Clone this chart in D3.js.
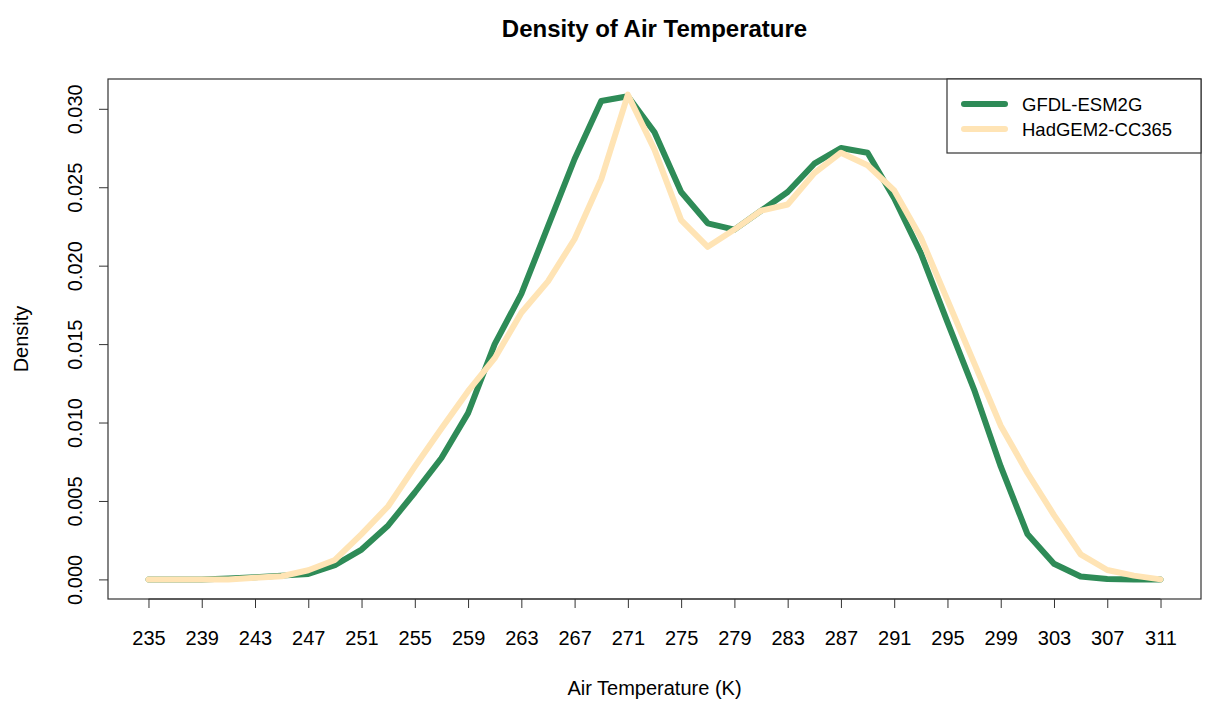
<!DOCTYPE html>
<html>
  <head>
	<meta charset="utf-8">
	<title>Density of Air Temperature</title>
	<style>
	  body { margin: 0; background: #fff; }
	  svg text { font-family: "Liberation Sans", Arial, sans-serif; fill: #000; }
	</style>
  </head>
  <body>
	<div id="chart"></div>
	<script src="https://d3js.org/d3.v7.min.js"></script>
	<script>
	  (function(d3) {
		'use strict';

		// temperature grid (K), every 2 degrees
		var temps = [235, 237, 239, 241, 243, 245, 247, 249, 251, 253, 255, 257, 259,
		  261, 263, 265, 267, 269, 271, 273, 275, 277, 279, 281, 283, 285, 287,
		  289, 291, 293, 295, 297, 299, 301, 303, 305, 307, 309, 311];

		var gfdl = [0, 0, 0, 0.00005, 0.00013, 0.00024, 0.00035, 0.00091, 0.0019, 0.00344,
		  0.00554, 0.00774, 0.0106, 0.0150, 0.0182, 0.0225, 0.0268, 0.0305, 0.0308,
		  0.0285, 0.0247, 0.0227, 0.0223, 0.0235, 0.0247, 0.0265, 0.0275, 0.0272,
		  0.0243, 0.0208, 0.0164, 0.0121, 0.0072, 0.0029, 0.0010, 0.00018, 0.00003, 0, 0];

		var hadgem = [0, 0, 0, 0, 0.0001, 0.0002, 0.00058, 0.00124, 0.00289, 0.00466,
		  0.00719, 0.00962, 0.0120, 0.0141, 0.0170, 0.0190, 0.0217, 0.0255, 0.0309,
		  0.0274, 0.0229, 0.0212, 0.0223, 0.0235, 0.0239, 0.0259, 0.0272, 0.0264,
		  0.0248, 0.0218, 0.0178, 0.0138, 0.0098, 0.0068, 0.0041, 0.0016, 0.0006, 0.00024, 0];

		var xTicks = d3.range(235, 312, 4);
		var yTicks = [0, 0.005, 0.010, 0.015, 0.020, 0.025, 0.030];

		var seriesNames = ['GFDL-ESM2G', 'HadGEM2-CC365'];
		var seriesColors = ['#2e8b57', '#ffe4b5'];

		var width = 1209;
		var height = 708;
		var plot = { left: 108, right: 1201, top: 79, bottom: 599 };
		var font = '"Liberation Sans", Arial, sans-serif';

		var x = d3.scaleLinear().domain([231.96, 314.04]).range([plot.left, plot.right]);
		var y = d3.scaleLinear().domain([-0.00125, 0.0319]).range([plot.bottom, plot.top]);

		var svg = d3.select('#chart')
		  .append('svg')
		  .attr('width', width)
		  .attr('height', height);

		// title
		svg.append('text')
		  .attr('x', (plot.left + plot.right) / 2)
		  .attr('y', 37)
		  .attr('text-anchor', 'middle')
		  .style('font-size', '24px')
		  .style('font-weight', 'bold')
		  .text('Density of Air Temperature');

		// x axis
		var xAxis = svg.append('g')
		  .attr('transform', 'translate(0,' + plot.bottom + ')')
		  .call(d3.axisBottom(x).tickValues(xTicks).tickSize(9).tickPadding(23).tickFormat(d3.format('d')));
		xAxis.select('.domain').remove();
		xAxis.selectAll('text').style('font-size', '20px').style('font-family', font);
		xAxis.selectAll('line').attr('stroke', '#333');
		svg.append('line')
		  .attr('x1', x(235)).attr('x2', x(311))
		  .attr('y1', plot.bottom).attr('y2', plot.bottom)
		  .attr('stroke', '#333');

		// y axis, labels rotated like R
		var yAxis = svg.append('g')
		  .attr('transform', 'translate(' + plot.left + ',0)')
		  .call(d3.axisLeft(y).tickValues(yTicks).tickSize(9).tickFormat(d3.format('.3f')));
		yAxis.select('.domain').remove();
		yAxis.selectAll('line').attr('stroke', '#333');
		yAxis.selectAll('text')
		  .style('font-size', '20px')
		  .style('font-family', font)
		  .attr('text-anchor', 'middle')
		  .attr('dy', null)
		  .attr('x', null)
		  .attr('transform', 'translate(-26,0) rotate(-90)');

		// plot box
		svg.append('rect')
		  .attr('x', plot.left).attr('y', plot.top)
		  .attr('width', plot.right - plot.left)
		  .attr('height', plot.bottom - plot.top)
		  .attr('fill', 'none')
		  .attr('stroke', '#333')
		  .attr('stroke-width', 1.2);

		// axis titles
		svg.append('text')
		  .attr('x', (plot.left + plot.right) / 2)
		  .attr('y', 695)
		  .attr('text-anchor', 'middle')
		  .style('font-size', '20px')
		  .text('Air Temperature (K)');

		svg.append('text')
		  .attr('transform', 'translate(28,' + ((plot.top + plot.bottom) / 2) + ') rotate(-90)')
		  .attr('text-anchor', 'middle')
		  .style('font-size', '20px')
		  .text('Density');

		// lines
		var line = d3.line()
		  .x(function(d) { return x(d[0]); })
		  .y(function(d) { return y(d[1]); });

		[gfdl, hadgem].forEach(function(vals, i) {
		  svg.append('path')
			.datum(temps.map(function(t, j) { return [t, vals[j]]; }))
			.attr('d', line)
			.attr('fill', 'none')
			.attr('stroke', seriesColors[i])
			.attr('stroke-width', 6)
			.attr('stroke-linejoin', 'round')
			.attr('stroke-linecap', 'round');
		});

		// legend
		var legend = svg.append('g');
		legend.append('rect')
		  .attr('x', 947).attr('y', plot.top)
		  .attr('width', plot.right - 947).attr('height', 74)
		  .attr('fill', '#fff')
		  .attr('stroke', '#333')
		  .attr('stroke-width', 1.2);

		seriesNames.forEach(function(name, i) {
		  var ly = 104 + i * 25;
		  legend.append('line')
			.attr('x1', 964).attr('x2', 1005)
			.attr('y1', ly).attr('y2', ly)
			.attr('stroke', seriesColors[i])
			.attr('stroke-width', 6)
			.attr('stroke-linecap', 'round');
		  legend.append('text')
			.attr('x', 1022)
			.attr('y', ly + 7)
			.style('font-size', '18.5px')
			.text(name);
		});

	  })(window.d3);
	</script>
  </body>
</html>
